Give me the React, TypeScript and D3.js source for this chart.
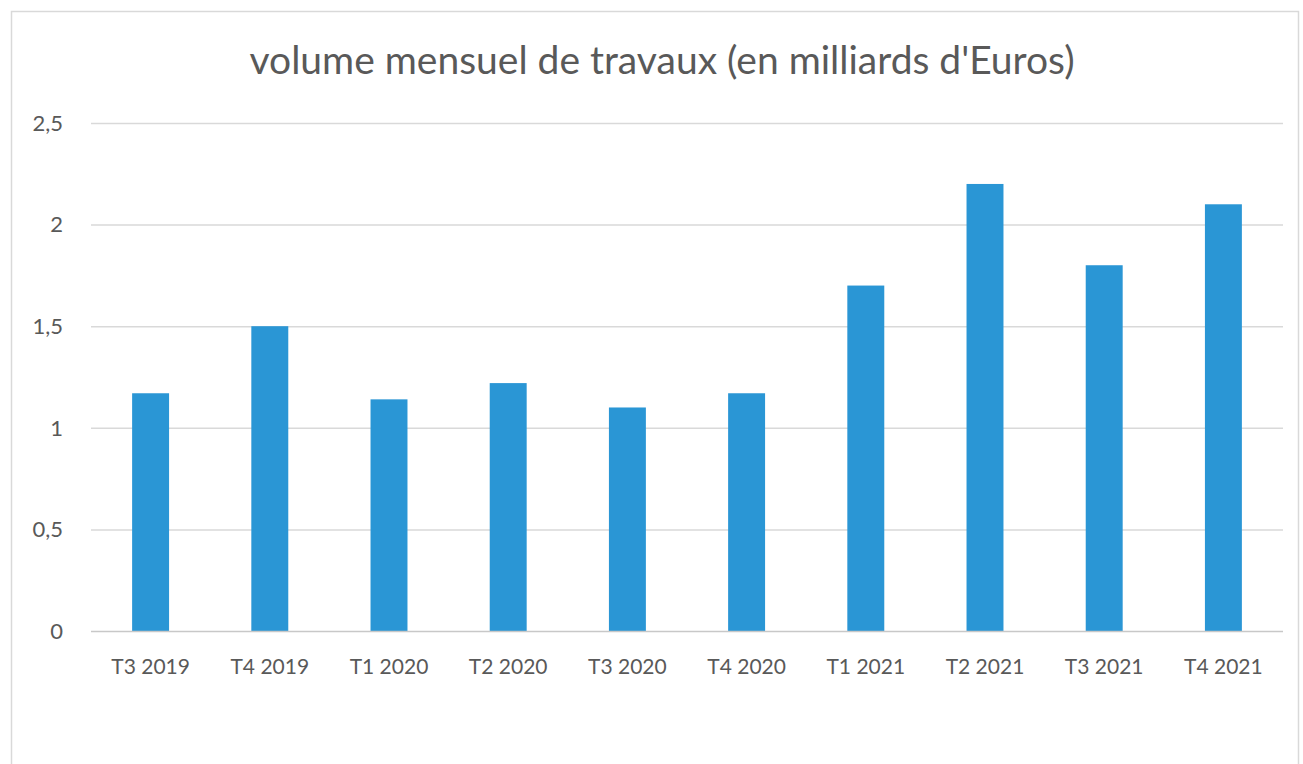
import { useEffect, useRef } from "react"
import * as d3 from "d3"

const quarters = ["T3 2019", "T4 2019", "T1 2020", "T2 2020", "T3 2020", "T4 2020", "T1 2021", "T2 2021", "T3 2021", "T4 2021"]
const volumes = [1.17, 1.5, 1.14, 1.22, 1.1, 1.17, 1.7, 2.2, 1.8, 2.1]
const yTicks = [0, 0.5, 1, 1.5, 2, 2.5]
const title = "volume mensuel de travaux (en milliards d'Euros)"

export default function App() {
  const svgRef = useRef<SVGSVGElement>(null)

  useEffect(() => {
    if (!svgRef.current) return
    const W = 1303
    const H = 764
    const margin = { top: 123, right: 20, bottom: 133, left: 91 }
    const plotW = 1283 - margin.left
    const plotH = H - margin.top - margin.bottom

    const svg = d3.select(svgRef.current)
    svg.selectAll("*").remove()
    svg.attr("width", W).attr("height", H).style("font-family", "Lato, 'Open Sans', sans-serif")

    svg.append("rect").attr("width", W).attr("height", H).attr("fill", "#fff")

    // chart frame
    svg
      .append("rect")
      .attr("x", 11.5)
      .attr("y", 11.5)
      .attr("width", 1287)
      .attr("height", 760)
      .attr("fill", "none")
      .attr("stroke", "#d9d9d9")
      .attr("stroke-width", 1.5)

    const x = d3.scaleBand<string>().domain(quarters).range([0, plotW]).paddingInner(0.69).paddingOuter(0.345)
    const y = d3.scaleLinear().domain([0, 2.5]).range([plotH, 0])

    const g = svg.append("g").attr("transform", `translate(${margin.left},${margin.top})`)

    // gridlines
    g.selectAll(".grid")
      .data(yTicks.slice(1))
      .enter()
      .append("line")
      .attr("x1", 0)
      .attr("x2", plotW)
      .attr("y1", (d) => y(d) + 0.5)
      .attr("y2", (d) => y(d) + 0.5)
      .attr("stroke", "#d9d9d9")
      .attr("stroke-width", 1.5)

    // y labels
    g.selectAll(".ylab")
      .data(yTicks)
      .enter()
      .append("text")
      .attr("x", -28)
      .attr("y", (d) => y(d))
      .attr("dy", "0.35em")
      .attr("text-anchor", "end")
      .attr("fill", "#595959")
      .style("font-size", "22px")
      .text((d) => d3.format(".1~f")(d).replace(".", ","))

    // bars
    g.selectAll(".bar")
      .data(volumes)
      .enter()
      .append("rect")
      .attr("x", (d, i) => x(quarters[i])!)
      .attr("y", (d) => y(d))
      .attr("width", x.bandwidth())
      .attr("height", (d) => plotH - y(d))
      .attr("fill", "#2a96d5")

    // baseline
    g.append("line")
      .attr("x1", 0)
      .attr("x2", plotW)
      .attr("y1", plotH + 0.5)
      .attr("y2", plotH + 0.5)
      .attr("stroke", "#c8c8c8")
      .attr("stroke-width", 1.5)

    // x labels
    g.selectAll(".xlab")
      .data(quarters)
      .enter()
      .append("text")
      .attr("x", (d) => x(d)! + x.bandwidth() / 2)
      .attr("y", plotH + 43)
      .attr("text-anchor", "middle")
      .attr("fill", "#595959")
      .style("font-size", "21px")
      .text((d) => d)

    svg
      .append("text")
      .attr("x", 662)
      .attr("y", 74)
      .attr("text-anchor", "middle")
      .attr("fill", "#595959")
      .style("font-size", "39px")
      .text(title)
  }, [])

  return (
    <div style={{ position: "absolute", left: 0, top: 0 }}>
      <svg ref={svgRef} />
    </div>
  )
}
